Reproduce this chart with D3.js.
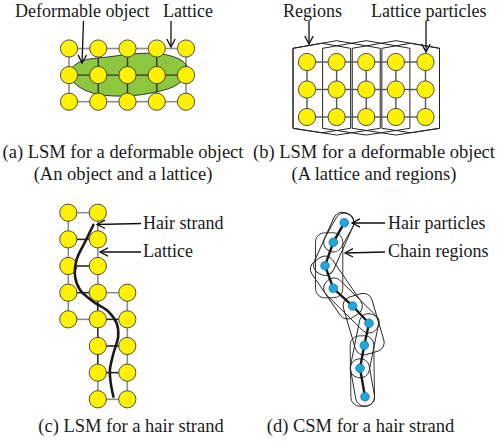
<!DOCTYPE html>
<html><head><meta charset="utf-8">
<script src="https://cdn.jsdelivr.net/npm/d3@7"></script>
<style>html,body{margin:0;padding:0;background:#fff}svg{display:block}</style>
</head><body>
<script>
// ---------- data ----------
const latticeCols = [0,1,2,3,4];
const latticeRows = [0,1,2];
// (a) deformable object outline, in lattice units (col,row)
const objectOutline = [[-0.02,0.93],[0.38,0.50],[1.40,0.31],[2.54,0.18],[3.34,0.24],[3.91,0.50],[4.08,0.87],[3.68,1.37],[2.77,1.68],[1.74,1.79],[0.83,1.68],[0.26,1.37]];
// (b) regions: column spans
const regionSpans = [[0,1],[0,2],[1,3],[2,4],[3,4]];
// (c) hair lattice nodes [col,row]
const hairNodes = [[0,0],[1,0],[0,1],[1,1],[0,2],[1,2],[0,3],[1,3],[2,3],[0,4],[1,4],[2,4],[1,5],[2,5],[1,6],[2,6],[1,7],[2,7]];
const darkEdges = ["0,1-1,1","0,2-1,2","0,3-1,3","1,3-1,4","1,4-2,4","1,4-1,5","1,5-2,5","1,5-1,6","1,6-2,6"];
const hairStrand = [[0.85,0.46],[0.57,1.09],[0.28,1.77],[0.23,2.40],[0.40,2.90],[0.85,3.34],[1.36,3.71],[1.64,4.15],[1.69,4.65],[1.53,5.28],[1.41,5.90],[1.44,6.40],[1.53,6.90]];
// (d) hair particles (local units)
const hairParticles = [[94.3,32.7],[83.3,52.3],[75,75.7],[83.3,98.3],[102.7,116],[119,133.3],[114.3,155.3],[110,178.3],[115,206.7]];
const chainWidth = 1;
// texts
const labels = [
  {t:"Deformable object", x:15, y:17},
  {t:"Lattice", x:163, y:17},
  {t:"Regions", x:283, y:17},
  {t:"Lattice particles", x:371, y:17},
  {t:"Hair strand", x:143, y:229},
  {t:"Lattice", x:143, y:257},
  {t:"Hair particles", x:388, y:229},
  {t:"Chain regions", x:388, y:257}
];
const captions = [
  {t:"(a) LSM for a deformable object", x:123, y:158},
  {t:"(An object and a lattice)", x:123, y:180},
  {t:"(b) LSM for a deformable object", x:374, y:158},
  {t:"(A lattice and regions)", x:374, y:180},
  {t:"(c) LSM for a hair strand", x:131, y:432},
  {t:"(d) CSM for a hair strand", x:360.5, y:432}
];
const arrows = [
  [[83.5,21],[82,63]],
  [[171,21],[171,47]],
  [[309,21],[309,44]],
  [[426,21],[426,52]],
  [[141,223.5],[97,224.5]],
  [[141,252],[100,252]],
  [[385,223],[352,223]],
  [[385,252],[345,253]]
];

// ---------- drawing ----------
const W=497,H=442;
const svg = d3.select("body").append("svg").attr("width",W).attr("height",H);
const font = "'Liberation Serif','Times New Roman',serif";
const YEL="#fff200", NODE_STROKE="#3a3a3a", GREY="#8c8c8c", DARK="#333";
const R=8.6;

const defs = svg.append("defs");
defs.append("marker").attr("id","arr").attr("viewBox","-10 -6 12 12")
  .attr("refX",0).attr("refY",0).attr("markerWidth",12).attr("markerHeight",12)
  .attr("markerUnits","userSpaceOnUse").attr("orient","auto")
  .append("path").attr("d","M-8,-4.2L0,0L-8,4.2").attr("fill","none").attr("stroke","#111").attr("stroke-width",1.3);

// ----- (a) -----
const xA = d3.scaleLinear().domain([0,4]).range([69,186]);
const yA = d3.scaleLinear().domain([0,2]).range([48.5,101.7]);
const gA = svg.append("g");
function gridEdges(cols, rows){
  const e=[];
  rows.forEach(r=>cols.forEach(c=>{
    if(c<cols[cols.length-1]) e.push([[c,r],[c+1,r]]);
    if(r<rows[rows.length-1]) e.push([[c,r],[c,r+1]]);
  }));
  return e;
}
const edgesA = gridEdges(latticeCols,latticeRows);
gA.selectAll("line.g").data(edgesA).join("line")
  .attr("x1",d=>xA(d[0][0])).attr("y1",d=>yA(d[0][1])).attr("x2",d=>xA(d[1][0])).attr("y2",d=>yA(d[1][1]))
  .attr("stroke",GREY).attr("stroke-width",1.6);
const blobLine = d3.line().x(d=>xA(d[0])).y(d=>yA(d[1])).curve(d3.curveCatmullRomClosed.alpha(0.5));
defs.append("clipPath").attr("id","blobclip").append("path").attr("d",blobLine(objectOutline));
gA.append("path").attr("d",blobLine(objectOutline)).attr("fill","#8dc63f");
gA.append("g").attr("clip-path","url(#blobclip)").selectAll("line").data(edgesA).join("line")
  .attr("x1",d=>xA(d[0][0])).attr("y1",d=>yA(d[0][1])).attr("x2",d=>xA(d[1][0])).attr("y2",d=>yA(d[1][1]))
  .attr("stroke",DARK).attr("stroke-width",1.4);
gA.append("path").attr("d",blobLine(objectOutline)).attr("fill","none").attr("stroke","#333").attr("stroke-width",1);
const nodesA = latticeRows.flatMap(r=>latticeCols.map(c=>[c,r]));
gA.selectAll("circle").data(nodesA).join("circle")
  .attr("cx",d=>xA(d[0])).attr("cy",d=>yA(d[1])).attr("r",R)
  .attr("fill",YEL).attr("stroke",NODE_STROKE).attr("stroke-width",0.9);

// ----- (b) -----
const xB = d3.scaleLinear().domain([0,4]).range([307,425.5]);
const yB = d3.scaleLinear().domain([0,2]).range([62,117]);
const gB = svg.append("g");
regionSpans.forEach(s=>{
  const xl = xB(s[0])-14, xr = xB(s[1])+14, xc=(xl+xr)/2, hw=(xr-xl)/2;
  const top = yB(0)-13.7, bot = yB(2)+11.3, rise = hw*0.175, drop = hw*0.155;
  const pts = [[xl,top],[xc,top-rise],[xr,top],[xr,bot],[xc,bot+drop],[xl,bot]];
  gB.append("path").attr("d","M"+pts.map(p=>p.join(",")).join("L")+"Z")
    .attr("fill","none").attr("stroke","#222").attr("stroke-width",1);
});
const edgesB = gridEdges(latticeCols,latticeRows);
gB.selectAll("line").data(edgesB).join("line")
  .attr("x1",d=>xB(d[0][0])).attr("y1",d=>yB(d[0][1])).attr("x2",d=>xB(d[1][0])).attr("y2",d=>yB(d[1][1]))
  .attr("stroke","#555").attr("stroke-width",1.4);
gB.selectAll("circle").data(nodesA).join("circle")
  .attr("cx",d=>xB(d[0])).attr("cy",d=>yB(d[1])).attr("r",R)
  .attr("fill",YEL).attr("stroke",NODE_STROKE).attr("stroke-width",0.9);

// ----- (c) -----
const xC = d3.scaleLinear().domain([0,2]).range([68.3,127.3]);
const yC = d3.scaleLinear().domain([0,7]).range([212.7,399.3]);
const gC = svg.append("g");
const key = d=>d[0]+","+d[1];
const nodeSet = new Set(hairNodes.map(key));
const edgesC=[];
hairNodes.forEach(n=>{
  const rN=[n[0]+1,n[1]], dN=[n[0],n[1]+1];
  if(nodeSet.has(key(rN))) edgesC.push([n,rN]);
  if(nodeSet.has(key(dN))) edgesC.push([n,dN]);
});
gC.selectAll("line").data(edgesC).join("line")
  .attr("x1",d=>xC(d[0][0])).attr("y1",d=>yC(d[0][1])).attr("x2",d=>xC(d[1][0])).attr("y2",d=>yC(d[1][1]))
  .attr("stroke",d=>darkEdges.includes(key(d[0])+"-"+key(d[1]))?"#2a2a2a":GREY)
  .attr("stroke-width",1.6);
const strandLine = d3.line().x(d=>xC(d[0])).y(d=>yC(d[1])).curve(d3.curveCatmullRom.alpha(0.5));
gC.selectAll("circle").data(hairNodes).join("circle")
  .attr("cx",d=>xC(d[0])).attr("cy",d=>yC(d[1])).attr("r",R)
  .attr("fill",YEL).attr("stroke",NODE_STROKE).attr("stroke-width",0.9);
gC.append("path").attr("d",strandLine(hairStrand)).attr("fill","none").attr("stroke","#1a1a1a").attr("stroke-width",2.6).attr("stroke-linecap","round");

// ----- (d) -----
const xD = d3.scaleLinear().domain([0,100]).range([250,350]);
const yD = d3.scaleLinear().domain([0,100]).range([190,290]);
const gD = svg.append("g");
const P = hairParticles.map(p=>[xD(p[0]),yD(p[1])]);
const pad=9.5;
P.forEach((_,i)=>{
  const a=Math.max(0,i-chainWidth), b=Math.min(P.length-1,i+chainWidth);
  const pts=P.slice(a,b+1);
  const dx=pts[pts.length-1][0]-pts[0][0], dy=pts[pts.length-1][1]-pts[0][1];
  const L=Math.hypot(dx,dy), ux=dx/L, uy=dy/L;
  const al=pts.map(p=>(p[0]-pts[0][0])*ux+(p[1]-pts[0][1])*uy);
  const pe=pts.map(p=>-(p[0]-pts[0][0])*uy+(p[1]-pts[0][1])*ux);
  const a0=d3.min(al)-pad, a1=d3.max(al)+pad, p0=d3.min(pe)-pad, p1=d3.max(pe)+pad;
  const ang=Math.atan2(uy,ux)*180/Math.PI;
  gD.append("rect").attr("transform",`translate(${pts[0][0]},${pts[0][1]}) rotate(${ang})`)
    .attr("x",a0).attr("y",p0).attr("width",a1-a0).attr("height",p1-p0).attr("rx",9)
    .attr("fill","none").attr("stroke","#222").attr("stroke-width",0.9);
});
gD.append("path").attr("d",d3.line()(P)).attr("fill","none").attr("stroke","#1a1a1a").attr("stroke-width",2.4);
gD.selectAll("circle").data(P).join("circle")
  .attr("cx",d=>d[0]).attr("cy",d=>d[1]).attr("r",4.3)
  .attr("fill","#1ea7e1").attr("stroke","#1572a8").attr("stroke-width",0.8);

// ----- annotations -----
svg.append("g").selectAll("line").data(arrows).join("line")
  .attr("x1",d=>d[0][0]).attr("y1",d=>d[0][1]).attr("x2",d=>d[1][0]).attr("y2",d=>d[1][1])
  .attr("stroke","#111").attr("stroke-width",1.3).attr("marker-end","url(#arr)");
svg.append("g").selectAll("text").data(labels).join("text")
  .attr("x",d=>d.x).attr("y",d=>d.y).text(d=>d.t)
  .attr("font-family",font).attr("font-size",18).attr("fill","#1a1a1a");
svg.append("g").selectAll("text").data(captions).join("text")
  .attr("x",d=>d.x).attr("y",d=>d.y).attr("text-anchor","middle").text(d=>d.t)
  .attr("font-family",font).attr("font-size",18.5).attr("fill","#1a1a1a");
</script>
</body></html>
